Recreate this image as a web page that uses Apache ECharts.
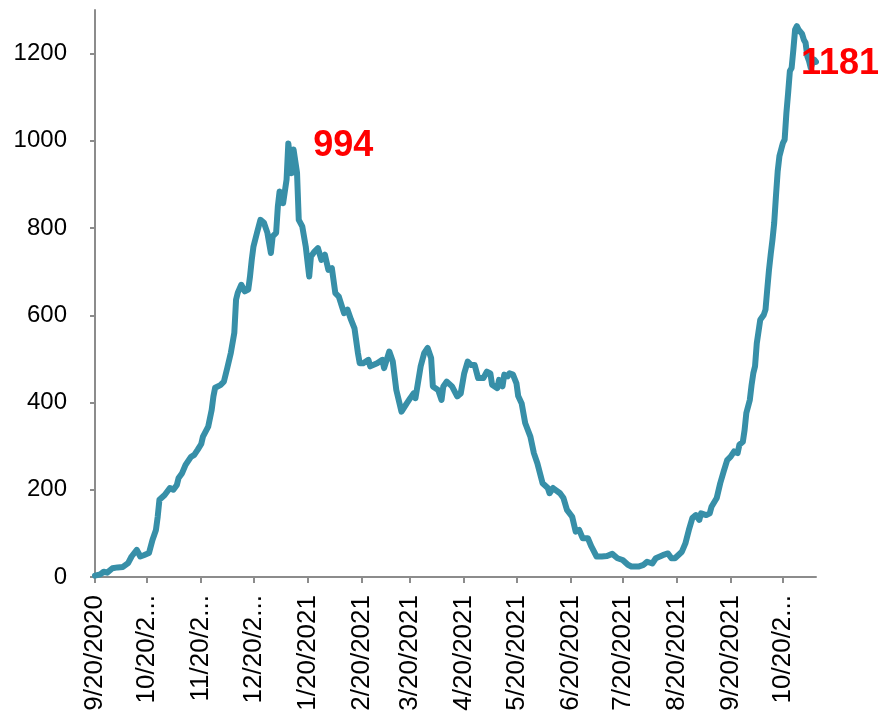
<!DOCTYPE html>
<html>
<head>
<meta charset="utf-8">
<script src="https://cdn.jsdelivr.net/npm/echarts@6/dist/echarts.min.js"></script>
<style>
html,body{margin:0;padding:0;background:#fff;}
#chart{width:882px;height:721px;}
</style>
</head>
<body>
<div id="chart"></div>
<script>
// Category range (daily)
const startDate = '9/20/2020';
const endDate = '11/8/2021';

const sampleDates = [
'9/20/2020','9/23/2020','9/25/2020','9/27/2020','9/30/2020','10/3/2020','10/6/2020','10/9/2020','10/11/2020','10/14/2020',
'10/16/2020','10/18/2020','10/21/2020','10/23/2020','10/25/2020','10/26/2020','10/27/2020','10/30/2020','11/2/2020','11/4/2020',
'11/6/2020','11/7/2020','11/9/2020','11/11/2020','11/14/2020','11/16/2020','11/18/2020','11/20/2020','11/21/2020','11/24/2020',
'11/26/2020','11/27/2020','11/28/2020','12/1/2020','12/3/2020','12/5/2020','12/7/2020','12/9/2020','12/10/2020','12/11/2020',
'12/13/2020','12/15/2020','12/17/2020','12/18/2020','12/19/2020','12/20/2020','12/22/2020','12/24/2020','12/26/2020','12/28/2020',
'12/30/2020','12/31/2020','1/1/2021','1/2/2021','1/3/2021','1/4/2021','1/6/2021','1/8/2021','1/9/2021','1/11/2021',
'1/12/2021','1/13/2021','1/14/2021','1/15/2021','1/17/2021','1/19/2021','1/21/2021','1/22/2021','1/24/2021','1/26/2021',
'1/28/2021','1/30/2021','2/1/2021','2/3/2021','2/5/2021','2/7/2021','2/10/2021','2/12/2021','2/14/2021','2/16/2021',
'2/18/2021','2/19/2021','2/21/2021','2/24/2021','2/25/2021','3/1/2021','3/4/2021','3/5/2021','3/8/2021','3/10/2021',
'3/12/2021','3/15/2021','3/18/2021','3/20/2021','3/22/2021','3/23/2021','3/26/2021','3/28/2021','3/30/2021','4/1/2021',
'4/2/2021','4/5/2021','4/7/2021','4/8/2021','4/10/2021','4/13/2021','4/16/2021','4/18/2021','4/20/2021','4/22/2021',
'4/24/2021','4/26/2021','4/28/2021','5/1/2021','5/3/2021','5/5/2021','5/6/2021','5/9/2021','5/10/2021','5/12/2021',
'5/13/2021','5/15/2021','5/16/2021','5/18/2021','5/20/2021','5/21/2021','5/23/2021','5/25/2021','5/28/2021','5/30/2021',
'6/1/2021','6/4/2021','6/7/2021','6/8/2021','6/10/2021','6/14/2021','6/16/2021','6/18/2021','6/21/2021','6/23/2021',
'6/25/2021','6/27/2021','6/30/2021','7/2/2021','7/5/2021','7/8/2021','7/11/2021','7/14/2021','7/17/2021','7/20/2021',
'7/23/2021','7/25/2021','7/29/2021','8/1/2021','8/3/2021','8/6/2021','8/8/2021','8/12/2021','8/15/2021','8/17/2021',
'8/19/2021','8/23/2021','8/25/2021','8/27/2021','8/29/2021','8/31/2021','9/2/2021','9/3/2021','9/6/2021','9/8/2021',
'9/9/2021','9/12/2021','9/14/2021','9/16/2021','9/18/2021','9/20/2021','9/22/2021','9/24/2021','9/25/2021','9/27/2021',
'9/28/2021','9/29/2021','10/1/2021','10/2/2021','10/3/2021','10/4/2021','10/5/2021','10/7/2021','10/9/2021','10/10/2021',
'10/11/2021','10/12/2021','10/13/2021','10/14/2021','10/15/2021','10/16/2021','10/17/2021','10/18/2021','10/19/2021','10/20/2021',
'10/21/2021','10/22/2021','10/23/2021','10/24/2021','10/25/2021','10/26/2021','10/27/2021','10/28/2021','10/29/2021','10/30/2021',
'10/31/2021','11/1/2021','11/2/2021','11/3/2021','11/4/2021','11/5/2021','11/6/2021','11/7/2021','11/8/2021'
];
const sampleValues = [
3,6,12,10,20,22,23,32,47,62,
47,50,55,85,108,138,177,188,204,200,
211,227,238,257,275,280,292,305,322,345,
383,414,434,440,448,480,514,560,636,652,
670,655,659,689,727,758,789,819,812,789,
743,781,785,789,850,884,857,911,994,926,
980,984,927,819,804,758,689,735,746,754,
727,739,704,708,651,643,605,613,590,570,
513,490,490,498,483,490,498,479,517,494,
429,379,398,410,421,410,483,513,525,502,
437,429,406,437,448,437,414,421,467,494,
486,486,456,456,471,467,441,433,452,437,
464,460,467,464,444,415,398,353,322,284,
261,215,204,192,204,192,181,154,138,104,
108,89,89,70,47,47,48,53,43,39,
28,24,24,28,35,31,43,50,54,43,
43,58,77,108,135,142,131,146,142,146,
161,181,215,242,268,276,288,284,303,310,
337,376,406,440,467,483,536,590,601,613,
659,704,740,773,812,873,930,965,980,995,
1003,1064,1110,1160,1167,1209,1255,1263,1255,1259,
1245,1232,1225,1194,1183,1167,1180,1186,1181
];

// Points carrying a data label
const labelDates = ['1/9/2021', '11/8/2021'];

// Y-axis ticks
const yTicks = [0, 200, 400, 600, 800, 1000, 1200];
const yMax = 1300;

function parseMDY(s) {
  const p = s.split('/').map(Number);
  return Date.UTC(p[2], p[0] - 1, p[1]);
}
function fmt(t) {
  const d = new Date(t);
  return (d.getUTCMonth() + 1) + '/' + d.getUTCDate() + '/' + d.getUTCFullYear();
}
const categories = [];
for (let t = parseMDY(startDate); t <= parseMDY(endDate); t += 86400000) categories.push(fmt(t));

const lookup = {};
sampleDates.forEach((d, i) => { lookup[d] = sampleValues[i]; });

const seriesData = categories.map(d => (d in lookup ? lookup[d] : null));

const labelOffsets = {
  '1/9/2021': [0, 3],
  '11/8/2021': [-40, 2]
};
const markData = labelDates.map(d => ({
  coord: [d, lookup[d]],
  value: lookup[d],
  label: {
    show: true,
    position: 'right',
    distance: 24,
    offset: labelOffsets[d],
    color: '#ff0000',
    fontFamily: 'Liberation Sans',
    fontWeight: 'bold',
    fontSize: 36,
    formatter: '{c}'
  }
}));

const isTwentieth = (idx, val) => String(val).split('/')[1] === '20';

const chart = echarts.init(document.getElementById('chart'), null, { renderer: 'canvas' });
chart.setOption({
  animation: false,
  backgroundColor: '#ffffff',
  grid: { left: 95, top: 10, right: 66, bottom: 144, containLabel: false },
  xAxis: {
    type: 'category',
    data: categories,
    boundaryGap: false,
    axisLine: { lineStyle: { color: '#8c8c8c', width: 2 } },
    axisTick: { show: true, interval: isTwentieth, length: 6, lineStyle: { color: '#8c8c8c', width: 2 } },
    axisLabel: {
      interval: isTwentieth,
      rotate: 90,
      margin: 18,
      color: '#000000',
      fontFamily: 'Liberation Sans',
      fontSize: 26,
      width: 120,
      overflow: 'truncate',
      ellipsis: '...'
    },
    splitLine: { show: false }
  },
  yAxis: {
    type: 'value',
    min: 0,
    max: yMax,
    interval: 200,
    axisLine: { show: true, lineStyle: { color: '#8c8c8c', width: 2 } },
    axisTick: { show: true, length: 5, customValues: yTicks, lineStyle: { color: '#8c8c8c', width: 2 } },
    axisLabel: {
      customValues: yTicks,
      margin: 28,
      color: '#000000',
      fontFamily: 'Liberation Sans',
      fontSize: 24,
      formatter: v => String(v)
    },
    splitLine: { show: false }
  },
  series: [{
    type: 'line',
    data: seriesData,
    connectNulls: true,
    symbol: 'none',
    clip: false,
    lineStyle: { color: '#378fa8', width: 6, cap: 'round', join: 'round' },
    itemStyle: { color: '#378fa8' },
    markPoint: {
      symbol: 'circle',
      symbolSize: 2,
      itemStyle: { color: 'rgba(0,0,0,0)' },
      data: markData
    }
  }]
});
</script>
</body>
</html>
